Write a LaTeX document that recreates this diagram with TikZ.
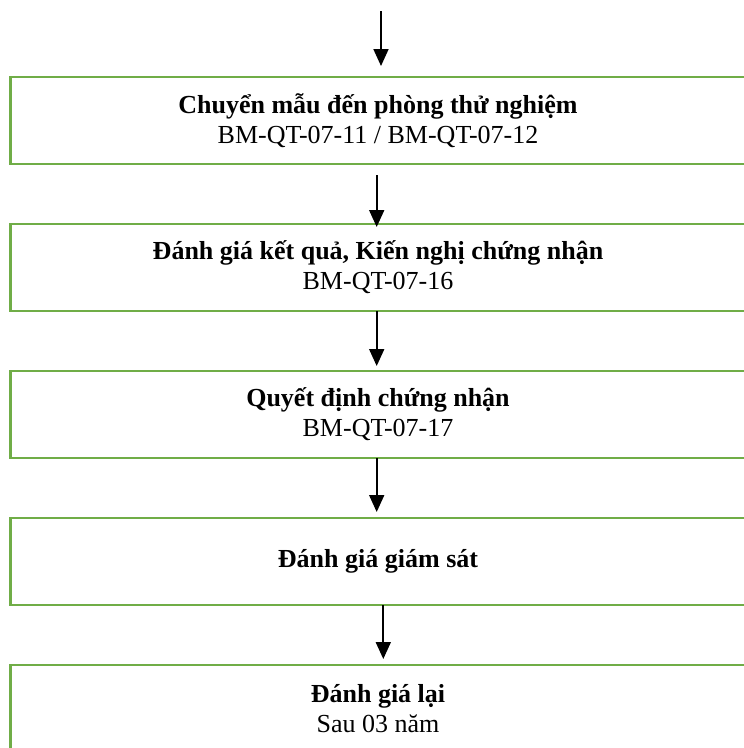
\documentclass[tikz,border=0pt]{standalone}
\usepackage{fontspec}
\setmainfont{Liberation Serif}
\usetikzlibrary{positioning,arrows.meta}
\definecolor{xanhla}{HTML}{70AD47}
\tikzset{
  buoc/.style={draw=xanhla,line width=2.5pt,minimum width=735pt,minimum height=87pt,
    inner sep=0pt,outer sep=0pt,align=center,font=\fontsize{26}{30}\selectfont},
  muiten/.style={line width=1.8pt,-{Triangle[width=15pt,length=17pt]}}
}
\begin{document}
\begin{tikzpicture}[x=1pt,y=-1pt]
\useasboundingbox (0,0) rectangle (744,748);
% cac buoc
\node[buoc] (chuyen) at (378,120.5)
  {\textbf{Chuyển mẫu đến phòng thử nghiệm}\\BM-QT-07-11 / BM-QT-07-12};
\node[buoc,below=60pt of chuyen] (ketqua)
  {\textbf{Đánh giá kết quả, Kiến nghị chứng nhận}\\BM-QT-07-16};
\node[buoc,below=60pt of ketqua] (quyetdinh)
  {\textbf{Quyết định chứng nhận}\\BM-QT-07-17};
\node[buoc,below=60pt of quyetdinh] (giamsat)
  {\textbf{Đánh giá giám sát}};
\node[buoc,below=60pt of giamsat] (lai)
  {\textbf{Đánh giá lại}\\Sau 03 năm};
% mui ten
\coordinate (dau) at (381,11);
\draw[muiten] (dau) -- ([xshift=3pt,yshift=11pt]chuyen.north);
\draw[muiten] ([xshift=-1.3pt,yshift=-11pt]chuyen.south) -- ([xshift=-1.3pt,yshift=-3pt]ketqua.north);
\draw[muiten] ([xshift=-1.3pt]ketqua.south) -- ([xshift=-1.3pt,yshift=5pt]quyetdinh.north);
\draw[muiten] ([xshift=-1.3pt]quyetdinh.south) -- ([xshift=-1.3pt,yshift=6pt]giamsat.north);
\draw[muiten] ([xshift=5.3pt]giamsat.south) -- ([xshift=5.3pt,yshift=6pt]lai.north);
\end{tikzpicture}
\end{document}
